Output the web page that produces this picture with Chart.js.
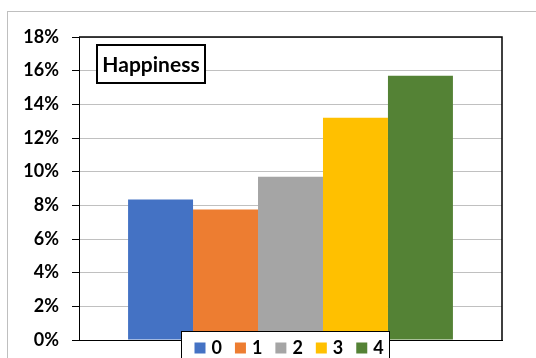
<!DOCTYPE html>
<html>
<head>
<meta charset="utf-8">
<script src="https://cdn.jsdelivr.net/npm/chart.js@4.4.0/dist/chart.umd.min.js"></script>
<style>
  html, body { margin: 0; padding: 0; background: #fff; }
  #wrap { position: relative; width: 536px; height: 358px; }
</style>
</head>
<body>
<div id="wrap"><canvas id="chart" width="536" height="358"></canvas></div>
<script>
// 数据
const categories = ['Happiness'];
const seriesLabels = ['0', '1', '2', '3', '4'];
const seriesValues = [8.35, 7.75, 9.7, 13.2, 15.7];
const seriesColors = ['#4472C4', '#ED7D31', '#A5A5A5', '#FFC000', '#548235'];
const yTicks = [0, 2, 4, 6, 8, 10, 12, 14, 16, 18];
const chartTitle = 'Happiness';

const FONT = 'Lato, "Open Sans", sans-serif';

// 外框 + 绘图区边框
const framePlugin = {
    id: 'frame',
    beforeDraw(chart) {
        const ctx = chart.ctx;
        ctx.save();
        ctx.fillStyle = '#fff';
        ctx.fillRect(0, 0, chart.width, chart.height);
        ctx.strokeStyle = '#bfbfbf';
        ctx.lineWidth = 1;
        ctx.strokeRect(7.5, 11.5, 800, 600);
        ctx.restore();
    },
    afterDatasetsDraw(chart) {
        const a = chart.chartArea;
        const ctx = chart.ctx;
        ctx.save();
        ctx.strokeStyle = '#000';
        ctx.lineWidth = 1.5;
        ctx.beginPath();
        ctx.moveTo(a.left, a.top);
        ctx.lineTo(a.right, a.top);
        ctx.lineTo(a.right, a.bottom);
        ctx.stroke();
        ctx.restore();
    }
};

// 标题框（在绘图区内部）
const titleBoxPlugin = {
    id: 'titleBox',
    afterDraw(chart) {
        const a = chart.chartArea;
        const ctx = chart.ctx;
        ctx.save();
        ctx.font = 'bold 21px ' + FONT;
        const w = ctx.measureText(chartTitle).width;
        const bw = Math.round(w + 11);
        const bh = 38;
        const x = Math.round(a.left + 18);
        const y = Math.round(a.top + 8);
        ctx.fillStyle = '#fff';
        ctx.fillRect(x, y, bw, bh);
        ctx.strokeStyle = '#000';
        ctx.lineWidth = 2;
        ctx.strokeRect(x, y, bw, bh);
        ctx.fillStyle = '#000';
        ctx.textAlign = 'center';
        ctx.textBaseline = 'middle';
        ctx.fillText(chartTitle, x + bw / 2, y + bh / 2 + 1);
        ctx.restore();
    }
};

// 图例（带边框，压在横轴上）
const legendBoxPlugin = {
    id: 'legendBox',
    afterDraw(chart) {
        const ctx = chart.ctx;
        const left = 181.5, top = 331.5, right = 389.5;
        ctx.save();
        ctx.fillStyle = '#fff';
        ctx.fillRect(left, top, right - left, 40);
        ctx.strokeStyle = '#000';
        ctx.lineWidth = 1;
        ctx.strokeRect(left, top, right - left, 40);
        ctx.font = 'bold 18px ' + FONT;
        ctx.textBaseline = 'middle';
        ctx.textAlign = 'left';
        let x = 194.5;
        chart.data.datasets.forEach(ds => {
            ctx.fillStyle = ds.backgroundColor;
            ctx.fillRect(x, 342.5, 11, 11);
            ctx.fillStyle = '#000';
            ctx.fillText(ds.label, x + 17, 348);
            x += 17 + ctx.measureText(ds.label).width + 13;
        });
        ctx.restore();
    }
};

const datasets = seriesLabels.map((label, i) => ({
    label: label,
    data: [seriesValues[i]],
    backgroundColor: seriesColors[i],
    borderWidth: 0,
    categoryPercentage: 0.768,
    barPercentage: 1.0
}));

new Chart(document.getElementById('chart').getContext('2d'), {
    type: 'bar',
    data: { labels: categories, datasets: datasets },
    plugins: [framePlugin, titleBoxPlugin, legendBoxPlugin],
    options: {
        responsive: false,
        animation: false,
        layout: { padding: { top: 37, right: 34, left: 0, bottom: 0 } },
        plugins: {
            legend: { display: false },
            title: { display: false },
            tooltip: { enabled: false }
        },
        scales: {
            x: {
                grid: { display: false },
                ticks: { display: false },
                border: { color: '#000', width: 1 },
                afterFit(scale) { scale.height = 18; }
            },
            y: {
                min: 0,
                max: 18,
                afterBuildTicks(scale) {
                    scale.ticks = yTicks.map(v => ({ value: v }));
                },
                ticks: {
                    padding: 13,
                    color: '#000',
                    font: { family: FONT, size: 18, weight: 'bold' },
                    callback: v => v + '%'
                },
                grid: { color: '#c0c0c0', tickColor: '#000', tickLength: 7, lineWidth: 1 },
                border: { color: '#000', width: 1 },
                afterFit(scale) {
                    scale.width = 79;
                    scale.paddingTop = 0;
                    scale.paddingBottom = 0;
                }
            }
        }
    }
});
</script>
</body>
</html>
